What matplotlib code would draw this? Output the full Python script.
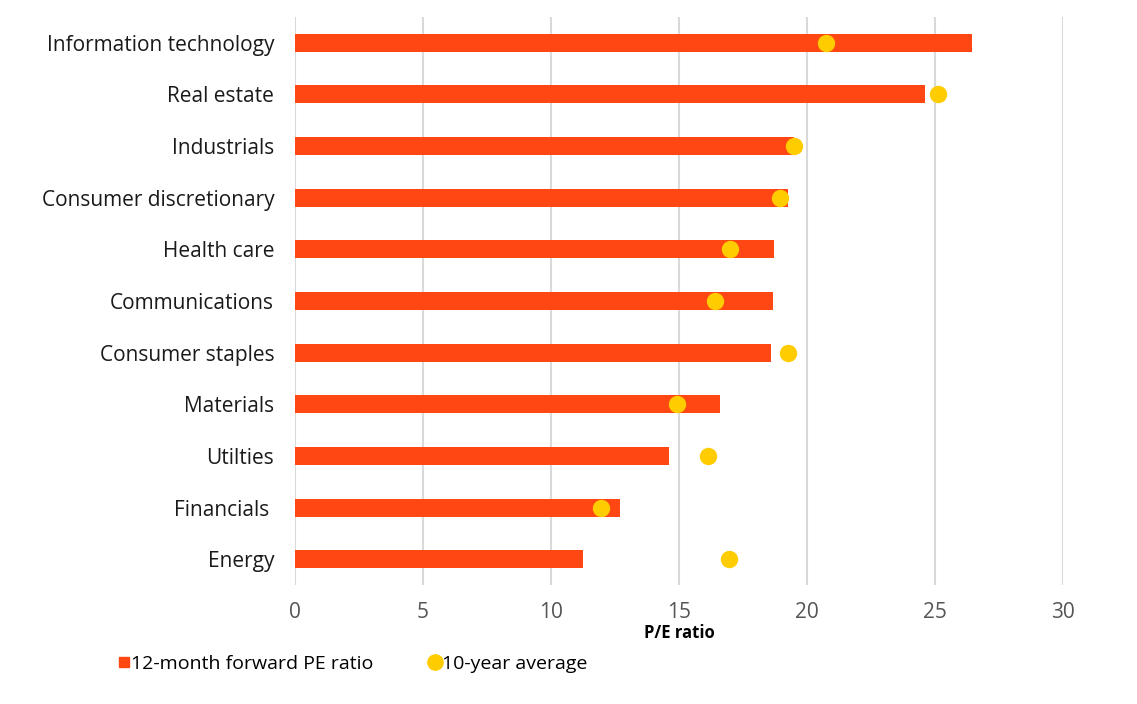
import numpy as np
import matplotlib.pyplot as plt
from matplotlib.lines import Line2D

plt.rcParams['font.family'] = ['Open Sans', 'DejaVu Sans']

sectors = ['Information technology', 'Real estate', 'Industrials',
           'Consumer discretionary', 'Health care', 'Communications',
           'Consumer staples', 'Materials', 'Utilties', 'Financials ', 'Energy']
forward_pe = [26.44, 24.59, 19.5, 19.27, 18.71, 18.67, 18.59, 16.58, 14.62, 12.7, 11.26]
ten_year_avg = [20.73, 25.11, 19.47, 18.93, 16.98, 16.4, 19.27, 14.92, 16.12, 11.94, 16.96]
xticks = [0, 5, 10, 15, 20, 25, 30]

bar_color = '#FF4713'
dot_color = '#FFCC00'

fig = plt.figure(figsize=(11.37, 7.04), dpi=100)
ax = fig.add_axes([0.2595, 0.169, 0.6755, 0.807])

y = np.arange(len(sectors))
ax.barh(y, forward_pe, height=0.35, color=bar_color, zorder=2)
ax.plot(ten_year_avg, y, 'o', color=dot_color, markersize=11.5, zorder=3)

ax.set_ylim(len(sectors) - 0.5, -0.5)
ax.set_xlim(0, 30)
ax.set_xticks(xticks)
ax.set_yticks(y)
ax.set_yticklabels(sectors, fontsize=15, color='#1a1a1a')
ax.tick_params(axis='x', labelsize=15, labelcolor='#555555', length=0, pad=12)
ax.tick_params(axis='y', length=0, pad=15)
ax.grid(axis='x', color='#d9d9d9', linewidth=1.5, zorder=0)
ax.set_axisbelow(True)
for s in ax.spines.values():
    s.set_visible(False)
ax.set_xlabel('P/E ratio', fontsize=12, fontweight='bold', labelpad=1)

handles = [
    Line2D([], [], marker='s', linestyle='none', color=bar_color, markersize=7.5),
    Line2D([], [], marker='o', linestyle='none', color=dot_color, markersize=11),
]
fig.legend(handles, ['12-month forward PE ratio', '10-year average'],
           loc='center left', bbox_to_anchor=(0.087, 0.057), ncol=2,
           frameon=False, fontsize=14, handletextpad=0.0, columnspacing=2.8,
           handlelength=0.75)

fig.savefig('out.png')
